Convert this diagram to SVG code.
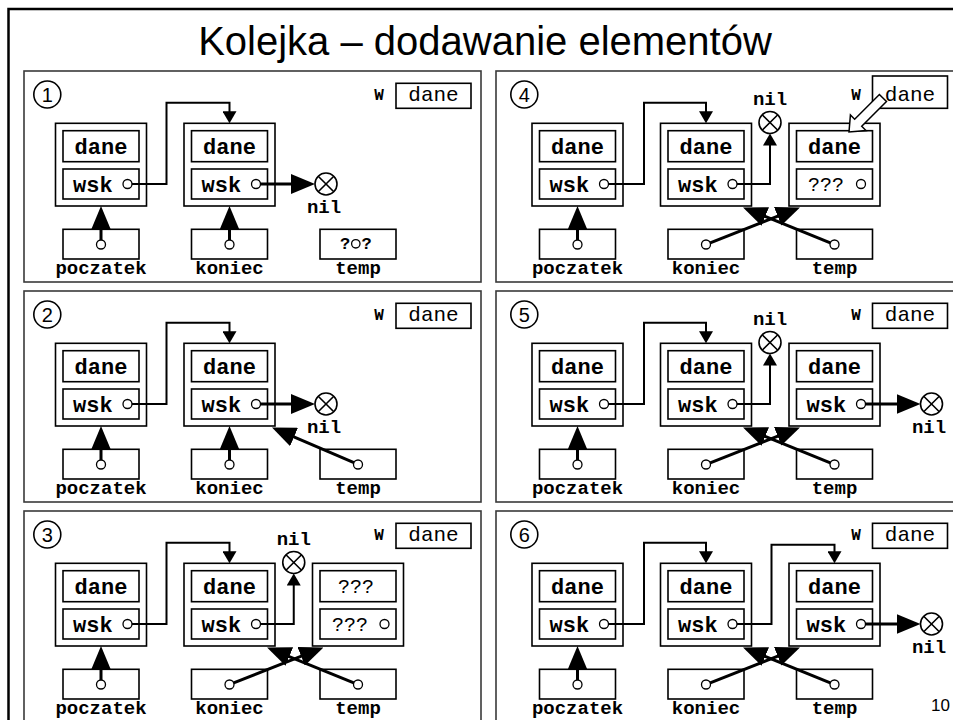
<svg xmlns="http://www.w3.org/2000/svg" width="953" height="720" viewBox="0 0 953 720">
<style>
  .frame{fill:none;stroke:#000;stroke-width:2.5}
  .panel{fill:none;stroke:#3a3a3a;stroke-width:1.6}
  .box{fill:#fff;stroke:#000;stroke-width:1.6}
  .ptr{fill:#fff;stroke:#000;stroke-width:1.3}
  .nilc{fill:#fff;stroke:#000;stroke-width:1.6}
  .thin{fill:none;stroke:#000;stroke-width:2}
  .thick{fill:none;stroke:#000;stroke-width:3}
  .hollow{fill:#fff;stroke:#000;stroke-width:1.5}
  .title{font-family:"Liberation Sans",Arial,sans-serif;font-size:40px;text-anchor:middle}
  .num{font-family:"Liberation Sans",Arial,sans-serif;font-size:20px;text-anchor:middle}
  .mono{font-family:"Liberation Mono","Courier New",monospace}
  .fld{font-size:22px;font-weight:bold}
  .c{text-anchor:middle}
  .lbl{font-size:19px;font-weight:bold;text-anchor:middle}
  .wl{font-size:16px;font-weight:bold;text-anchor:middle}
  .wd{font-size:21px;text-anchor:middle}
  .q{font-size:20px}
  .qs{font-size:17px;font-weight:bold;text-anchor:middle}
  .page{font-family:"Liberation Sans",Arial,sans-serif;font-size:17px;text-anchor:end}
</style>
<defs>
  <marker id="hb" viewBox="0 0 24 20" refX="18" refY="10" markerWidth="24" markerHeight="20" markerUnits="userSpaceOnUse" orient="auto">
    <path d="M0,0 L24,10 L0,20 z" fill="#000"/>
  </marker>
  <marker id="hs" viewBox="0 0 12 14" refX="8" refY="7" markerWidth="12" markerHeight="14" markerUnits="userSpaceOnUse" orient="auto">
    <path d="M0,0 L12,7 L0,14 z" fill="#000"/>
  </marker>
  <g id="nil">
    <circle class="nilc" cx="0" cy="0" r="11"/>
    <path d="M-7.8,-7.8 L7.8,7.8 M-7.8,7.8 L7.8,-7.8" stroke="#000" stroke-width="1.6"/>
  </g>
</defs>

<rect class="frame" x="8.5" y="9" width="960" height="730"/>
<text class="title" x="485" y="55">Kolejka – dodawanie elementów</text>

<!-- ===== Step 1 ===== -->
<g id="panel1">
  <rect class="panel" x="24" y="71" width="457" height="211"/>
  <g id="p1-step"><circle class="nilc" cx="47.3" cy="94.5" r="13.5"/><text class="num" x="47.3" y="101.5">1</text></g>
  <g id="p1-input"><text class="mono wl" x="379" y="100">W</text><rect class="box" x="396" y="83.3" width="75" height="25"/><text class="mono wd" x="433.5" y="101">dane</text></g>
  <g id="p1-n1">
    <rect class="box" x="55.5" y="123.3" width="91" height="82.7"/>
    <rect class="box" x="63" y="130.7" width="76" height="31"/><text class="mono fld c" x="101" y="153.5">dane</text>
    <rect class="box" x="63" y="169" width="76" height="30"/><text class="mono fld" x="73" y="191.5">wsk</text>
    <circle class="ptr" cx="127.5" cy="184" r="4.5"/>
  </g>
  <g id="p1-n2">
    <rect class="box" x="184" y="123.3" width="91" height="82.7"/>
    <rect class="box" x="191.5" y="130.7" width="76" height="31"/><text class="mono fld c" x="229.5" y="153.5">dane</text>
    <rect class="box" x="191.5" y="169" width="76" height="30"/><text class="mono fld" x="201.5" y="191.5">wsk</text>
    <circle class="ptr" cx="256" cy="184" r="4.5"/>
  </g>
  <g id="p1-nil"><use href="#nil" x="326" y="184"/><text class="mono lbl" x="324" y="212.5">nil</text></g>
  <g id="p1-poczatek"><rect class="box" x="63" y="229.3" width="76" height="29.7"/><circle class="ptr" cx="101" cy="244.5" r="4.5"/><text class="mono lbl" x="101" y="274">poczatek</text></g>
  <g id="p1-koniec"><rect class="box" x="191.5" y="229.3" width="76" height="29.7"/><circle class="ptr" cx="229.5" cy="244.5" r="4.5"/><text class="mono lbl" x="229.5" y="274">koniec</text></g>
  <g id="p1-temp"><rect class="box" x="320" y="229.3" width="76" height="29.7"/><text class="mono qs" x="345" y="249">?</text><circle class="ptr" cx="355.8" cy="243.8" r="4.2"/><text class="mono qs" x="366.5" y="249">?</text><text class="mono lbl" x="358" y="274">temp</text></g>
  <g id="p1-links">
    <path class="thin" d="M132,184 H166.5 V102.7 H229.5 V119.3" marker-end="url(#hs)"/>
    <path class="thick" d="M260.5,184 H309" marker-end="url(#hb)"/>
    <path class="thick" d="M101,240 V212" marker-end="url(#hb)"/>
    <path class="thick" d="M229.5,240 V212" marker-end="url(#hb)"/>
  </g>
</g>

<!-- ===== Step 2 ===== -->
<g id="panel2" transform="translate(0,220)">
  <rect class="panel" x="24" y="71" width="457" height="211"/>
  <g id="p2-step"><circle class="nilc" cx="47.3" cy="94.5" r="13.5"/><text class="num" x="47.3" y="101.5">2</text></g>
  <g id="p2-input"><text class="mono wl" x="379" y="100">W</text><rect class="box" x="396" y="83.3" width="75" height="25"/><text class="mono wd" x="433.5" y="101">dane</text></g>
  <g id="p2-n1">
    <rect class="box" x="55.5" y="123.3" width="91" height="82.7"/>
    <rect class="box" x="63" y="130.7" width="76" height="31"/><text class="mono fld c" x="101" y="153.5">dane</text>
    <rect class="box" x="63" y="169" width="76" height="30"/><text class="mono fld" x="73" y="191.5">wsk</text>
    <circle class="ptr" cx="127.5" cy="184" r="4.5"/>
  </g>
  <g id="p2-n2">
    <rect class="box" x="184" y="123.3" width="91" height="82.7"/>
    <rect class="box" x="191.5" y="130.7" width="76" height="31"/><text class="mono fld c" x="229.5" y="153.5">dane</text>
    <rect class="box" x="191.5" y="169" width="76" height="30"/><text class="mono fld" x="201.5" y="191.5">wsk</text>
    <circle class="ptr" cx="256" cy="184" r="4.5"/>
  </g>
  <g id="p2-nil"><use href="#nil" x="326" y="184"/><text class="mono lbl" x="324" y="212.5">nil</text></g>
  <g id="p2-poczatek"><rect class="box" x="63" y="229.3" width="76" height="29.7"/><circle class="ptr" cx="101" cy="244.5" r="4.5"/><text class="mono lbl" x="101" y="274">poczatek</text></g>
  <g id="p2-koniec"><rect class="box" x="191.5" y="229.3" width="76" height="29.7"/><circle class="ptr" cx="229.5" cy="244.5" r="4.5"/><text class="mono lbl" x="229.5" y="274">koniec</text></g>
  <g id="p2-temp"><rect class="box" x="320" y="229.3" width="76" height="29.7"/><circle class="ptr" cx="358" cy="244.5" r="4.5"/><text class="mono lbl" x="358" y="274">temp</text></g>
  <g id="p2-links">
    <path class="thin" d="M132,184 H166.5 V102.7 H229.5 V119.3" marker-end="url(#hs)"/>
    <path class="thick" d="M260.5,184 H309" marker-end="url(#hb)"/>
    <path class="thick" d="M101,240 V212" marker-end="url(#hb)"/>
    <path class="thick" d="M229.5,240 V212" marker-end="url(#hb)"/>
    <path class="thick" d="M353.9,242.7 L277.5,209.9" marker-end="url(#hb)"/>
  </g>
</g>

<!-- ===== Step 3 ===== -->
<g id="panel3" transform="translate(0,440)">
  <rect class="panel" x="24" y="71" width="457" height="215"/>
  <g id="p3-step"><circle class="nilc" cx="47.3" cy="94.5" r="13.5"/><text class="num" x="47.3" y="101.5">3</text></g>
  <g id="p3-input"><text class="mono wl" x="379" y="100">W</text><rect class="box" x="396" y="83.3" width="75" height="25"/><text class="mono wd" x="433.5" y="101">dane</text></g>
  <g id="p3-n1">
    <rect class="box" x="55.5" y="123.3" width="91" height="82.7"/>
    <rect class="box" x="63" y="130.7" width="76" height="31"/><text class="mono fld c" x="101" y="153.5">dane</text>
    <rect class="box" x="63" y="169" width="76" height="30"/><text class="mono fld" x="73" y="191.5">wsk</text>
    <circle class="ptr" cx="127.5" cy="184" r="4.5"/>
  </g>
  <g id="p3-n2">
    <rect class="box" x="184" y="123.3" width="91" height="82.7"/>
    <rect class="box" x="191.5" y="130.7" width="76" height="31"/><text class="mono fld c" x="229.5" y="153.5">dane</text>
    <rect class="box" x="191.5" y="169" width="76" height="30"/><text class="mono fld" x="201.5" y="191.5">wsk</text>
    <circle class="ptr" cx="256" cy="184" r="4.5"/>
  </g>
  <g id="p3-n3">
    <rect class="box" x="312.5" y="123.3" width="91" height="82.7"/>
    <rect class="box" x="320" y="130.7" width="76" height="31"/><text class="mono q c" x="356" y="153">???</text>
    <rect class="box" x="320" y="169" width="76" height="30"/><text class="mono q" x="332" y="191">???</text>
    <circle class="ptr" cx="384.5" cy="184" r="4.5"/>
  </g>
  <g id="p3-nil"><use href="#nil" x="293.75" y="122.5"/><text class="mono lbl" x="293.75" y="104.5">nil</text></g>
  <g id="p3-poczatek"><rect class="box" x="63" y="229.3" width="76" height="29.7"/><circle class="ptr" cx="101" cy="244.5" r="4.5"/><text class="mono lbl" x="101" y="274">poczatek</text></g>
  <g id="p3-koniec"><rect class="box" x="191.5" y="229.3" width="76" height="29.7"/><circle class="ptr" cx="229.5" cy="244.5" r="4.5"/><text class="mono lbl" x="229.5" y="274">koniec</text></g>
  <g id="p3-temp"><rect class="box" x="320" y="229.3" width="76" height="29.7"/><circle class="ptr" cx="358" cy="244.5" r="4.5"/><text class="mono lbl" x="358" y="274">temp</text></g>
  <g id="p3-links">
    <path class="thin" d="M132,184 H166.5 V102.7 H229.5 V119.3" marker-end="url(#hs)"/>
    <path class="thin" d="M260.5,184 H293.75 V137.5" marker-end="url(#hs)"/>
    <path class="thick" d="M101,240 V212" marker-end="url(#hb)"/>
    <path class="thick" d="M233.7,242.9 L317.9,209.7" marker-end="url(#hb)"/>
    <path class="thick" d="M353.8,242.8 L272.6,209.8" marker-end="url(#hb)"/>
  </g>
</g>

<!-- ===== Step 4 ===== -->
<g id="panel4">
  <rect class="panel" x="496" y="71" width="462" height="211"/>
  <g id="p4-step"><circle class="nilc" cx="524.3" cy="94.5" r="13.5"/><text class="num" x="524.3" y="101.5">4</text></g>
  <g id="p4-input"><text class="mono wl" x="856" y="99.5">W</text><rect class="box" x="872.5" y="76" width="75" height="32.3"/><text class="mono wd" x="910" y="101">dane</text></g>
  <g id="p4-n1">
    <rect class="box" x="532" y="123.3" width="91" height="82.7"/>
    <rect class="box" x="539.5" y="130.7" width="76" height="31"/><text class="mono fld c" x="577.5" y="153.5">dane</text>
    <rect class="box" x="539.5" y="169" width="76" height="30"/><text class="mono fld" x="549.5" y="191.5">wsk</text>
    <circle class="ptr" cx="604" cy="184" r="4.5"/>
  </g>
  <g id="p4-n2">
    <rect class="box" x="660.5" y="123.3" width="91" height="82.7"/>
    <rect class="box" x="668" y="130.7" width="76" height="31"/><text class="mono fld c" x="706" y="153.5">dane</text>
    <rect class="box" x="668" y="169" width="76" height="30"/><text class="mono fld" x="678" y="191.5">wsk</text>
    <circle class="ptr" cx="732.5" cy="184" r="4.5"/>
  </g>
  <g id="p4-n3">
    <rect class="box" x="789" y="123.3" width="91" height="82.7"/>
    <rect class="box" x="796.5" y="130.7" width="76" height="31"/><text class="mono fld c" x="834.5" y="153.5">dane</text>
    <rect class="box" x="796.5" y="169" width="76" height="30"/><text class="mono q" x="808" y="191">???</text>
    <circle class="ptr" cx="861" cy="184" r="4.5"/>
  </g>
  <g id="p4-nil"><use href="#nil" x="770" y="122.5"/><text class="mono lbl" x="770" y="104.5">nil</text></g>
  <g id="p4-poczatek"><rect class="box" x="539.5" y="229.3" width="76" height="29.7"/><circle class="ptr" cx="577.5" cy="244.5" r="4.5"/><text class="mono lbl" x="577.5" y="274">poczatek</text></g>
  <g id="p4-koniec"><rect class="box" x="668" y="229.3" width="76" height="29.7"/><circle class="ptr" cx="706" cy="244.5" r="4.5"/><text class="mono lbl" x="706" y="274">koniec</text></g>
  <g id="p4-temp"><rect class="box" x="796.5" y="229.3" width="76" height="29.7"/><circle class="ptr" cx="834.5" cy="244.5" r="4.5"/><text class="mono lbl" x="834.5" y="274">temp</text></g>
  <g id="p4-links">
    <path class="thin" d="M608.5,184 H644 V102.7 H706 V119.3" marker-end="url(#hs)"/>
    <path class="thin" d="M737,184 H770 V137.5" marker-end="url(#hs)"/>
    <path class="thick" d="M577.5,240 V212" marker-end="url(#hb)"/>
    <path class="thick" d="M710.2,242.9 L794.4,209.7" marker-end="url(#hb)"/>
    <path class="thick" d="M830.3,242.8 L748.6,209.75" marker-end="url(#hb)"/>
    <polygon class="hollow" points="-48,-5 -13,-5 -13,-11 0,0 -13,11 -13,5 -48,5" transform="translate(849,132) rotate(135)"/>
  </g>
</g>

<!-- ===== Step 5 ===== -->
<g id="panel5" transform="translate(0,220)">
  <rect class="panel" x="496" y="71" width="462" height="211"/>
  <g id="p5-step"><circle class="nilc" cx="524.3" cy="94.5" r="13.5"/><text class="num" x="524.3" y="101.5">5</text></g>
  <g id="p5-input"><text class="mono wl" x="856" y="100">W</text><rect class="box" x="872.5" y="83.3" width="75" height="25"/><text class="mono wd" x="910" y="101">dane</text></g>
  <g id="p5-n1">
    <rect class="box" x="532" y="123.3" width="91" height="82.7"/>
    <rect class="box" x="539.5" y="130.7" width="76" height="31"/><text class="mono fld c" x="577.5" y="153.5">dane</text>
    <rect class="box" x="539.5" y="169" width="76" height="30"/><text class="mono fld" x="549.5" y="191.5">wsk</text>
    <circle class="ptr" cx="604" cy="184" r="4.5"/>
  </g>
  <g id="p5-n2">
    <rect class="box" x="660.5" y="123.3" width="91" height="82.7"/>
    <rect class="box" x="668" y="130.7" width="76" height="31"/><text class="mono fld c" x="706" y="153.5">dane</text>
    <rect class="box" x="668" y="169" width="76" height="30"/><text class="mono fld" x="678" y="191.5">wsk</text>
    <circle class="ptr" cx="732.5" cy="184" r="4.5"/>
  </g>
  <g id="p5-n3">
    <rect class="box" x="789" y="123.3" width="91" height="82.7"/>
    <rect class="box" x="796.5" y="130.7" width="76" height="31"/><text class="mono fld c" x="834.5" y="153.5">dane</text>
    <rect class="box" x="796.5" y="169" width="76" height="30"/><text class="mono fld" x="806.5" y="191.5">wsk</text>
    <circle class="ptr" cx="861" cy="184" r="4.5"/>
  </g>
  <g id="p5-nil1"><use href="#nil" x="770" y="122.5"/><text class="mono lbl" x="770" y="104.5">nil</text></g>
  <g id="p5-nil2"><use href="#nil" x="931.5" y="184"/><text class="mono lbl" x="929" y="212.5">nil</text></g>
  <g id="p5-poczatek"><rect class="box" x="539.5" y="229.3" width="76" height="29.7"/><circle class="ptr" cx="577.5" cy="244.5" r="4.5"/><text class="mono lbl" x="577.5" y="274">poczatek</text></g>
  <g id="p5-koniec"><rect class="box" x="668" y="229.3" width="76" height="29.7"/><circle class="ptr" cx="706" cy="244.5" r="4.5"/><text class="mono lbl" x="706" y="274">koniec</text></g>
  <g id="p5-temp"><rect class="box" x="796.5" y="229.3" width="76" height="29.7"/><circle class="ptr" cx="834.5" cy="244.5" r="4.5"/><text class="mono lbl" x="834.5" y="274">temp</text></g>
  <g id="p5-links">
    <path class="thin" d="M608.5,184 H644 V102.7 H706 V119.3" marker-end="url(#hs)"/>
    <path class="thin" d="M737,184 H770 V137.5" marker-end="url(#hs)"/>
    <path class="thick" d="M865.5,184 H914.5" marker-end="url(#hb)"/>
    <path class="thick" d="M577.5,240 V212" marker-end="url(#hb)"/>
    <path class="thick" d="M710.2,242.9 L794.4,209.7" marker-end="url(#hb)"/>
    <path class="thick" d="M830.3,242.8 L748.6,209.75" marker-end="url(#hb)"/>
  </g>
</g>

<!-- ===== Step 6 ===== -->
<g id="panel6" transform="translate(0,440)">
  <rect class="panel" x="496" y="71" width="462" height="215"/>
  <g id="p6-step"><circle class="nilc" cx="524.3" cy="94.5" r="13.5"/><text class="num" x="524.3" y="101.5">6</text></g>
  <g id="p6-input"><text class="mono wl" x="856" y="100">W</text><rect class="box" x="872.5" y="83.3" width="75" height="25"/><text class="mono wd" x="910" y="101">dane</text></g>
  <g id="p6-n1">
    <rect class="box" x="532" y="123.3" width="91" height="82.7"/>
    <rect class="box" x="539.5" y="130.7" width="76" height="31"/><text class="mono fld c" x="577.5" y="153.5">dane</text>
    <rect class="box" x="539.5" y="169" width="76" height="30"/><text class="mono fld" x="549.5" y="191.5">wsk</text>
    <circle class="ptr" cx="604" cy="184" r="4.5"/>
  </g>
  <g id="p6-n2">
    <rect class="box" x="660.5" y="123.3" width="91" height="82.7"/>
    <rect class="box" x="668" y="130.7" width="76" height="31"/><text class="mono fld c" x="706" y="153.5">dane</text>
    <rect class="box" x="668" y="169" width="76" height="30"/><text class="mono fld" x="678" y="191.5">wsk</text>
    <circle class="ptr" cx="732.5" cy="184" r="4.5"/>
  </g>
  <g id="p6-n3">
    <rect class="box" x="789" y="123.3" width="91" height="82.7"/>
    <rect class="box" x="796.5" y="130.7" width="76" height="31"/><text class="mono fld c" x="834.5" y="153.5">dane</text>
    <rect class="box" x="796.5" y="169" width="76" height="30"/><text class="mono fld" x="806.5" y="191.5">wsk</text>
    <circle class="ptr" cx="861" cy="184" r="4.5"/>
  </g>
  <g id="p6-nil"><use href="#nil" x="931.5" y="184"/><text class="mono lbl" x="929" y="212.5">nil</text></g>
  <g id="p6-poczatek"><rect class="box" x="539.5" y="229.3" width="76" height="29.7"/><circle class="ptr" cx="577.5" cy="244.5" r="4.5"/><text class="mono lbl" x="577.5" y="274">poczatek</text></g>
  <g id="p6-koniec"><rect class="box" x="668" y="229.3" width="76" height="29.7"/><circle class="ptr" cx="706" cy="244.5" r="4.5"/><text class="mono lbl" x="706" y="274">koniec</text></g>
  <g id="p6-temp"><rect class="box" x="796.5" y="229.3" width="76" height="29.7"/><circle class="ptr" cx="834.5" cy="244.5" r="4.5"/><text class="mono lbl" x="834.5" y="274">temp</text></g>
  <g id="p6-links">
    <path class="thin" d="M608.5,184 H644 V102.7 H706 V119.3" marker-end="url(#hs)"/>
    <path class="thin" d="M737,184 H771.5 V104.7 H834.5 V119.3" marker-end="url(#hs)"/>
    <path class="thick" d="M865.5,184 H914.5" marker-end="url(#hb)"/>
    <path class="thick" d="M577.5,240 V212" marker-end="url(#hb)"/>
    <path class="thick" d="M710.2,242.9 L794.4,209.7" marker-end="url(#hb)"/>
    <path class="thick" d="M830.3,242.8 L748.6,209.75" marker-end="url(#hb)"/>
  </g>
</g>

<text class="page" x="950" y="711">10</text>
</svg>
